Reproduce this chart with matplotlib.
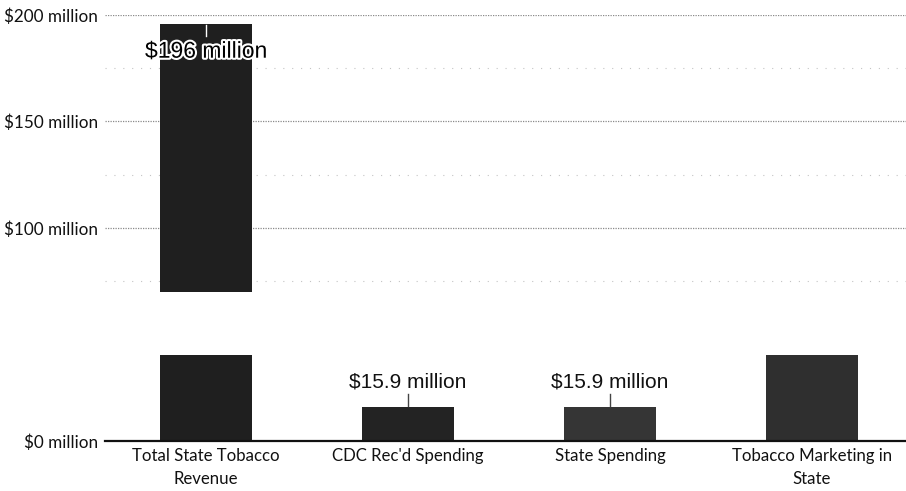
import numpy as np
import matplotlib
matplotlib.use("Agg")
import matplotlib.pyplot as plt
import matplotlib.patheffects as pe
from matplotlib.patches import Rectangle

# spending figures, in millions of dollars
categories = ["Total State Tobacco\nRevenue", "CDC Rec'd Spending",
              "State Spending", "Tobacco Marketing in\nState"]
values = [196, 15.9, 15.9, 45]
value_labels = ["$196 million", "$15.9 million", "$15.9 million", None]
bar_colors = ["#1f1f1f", "#232323", "#353535", "#2f2f2f"]
major_ticks = [0, 50, 100, 150, 200]
minor_ticks = [75, 125, 175]

W, H = 906, 491
fig = plt.figure(figsize=(W / 100, H / 100), dpi=100)
ax = fig.add_axes([105 / W, (H - 441) / H, 808 / W, 426 / H])

x = np.arange(len(categories))
ax.bar(x, values, width=0.46, color=bar_colors, zorder=3)

ax.set_xlim(-0.5, 3.5)
ax.set_ylim(0, 200)
ax.set_yticks(major_ticks)
ax.set_yticklabels([f"${v} million" for v in major_ticks],
                   fontsize=12.3, family="Lato", color="#111")
ax.set_yticks(minor_ticks, minor=True)
ax.set_xticks(x)
ax.set_xticklabels(categories, fontsize=12.1, family="Lato", color="#111",
                   linespacing=1.55)
ax.tick_params(axis="y", which="both", length=0, pad=5)
ax.tick_params(axis="x", length=0, pad=5)

# major grid dotted, minor grid barely there
ax.grid(axis="y", which="major", color="#8a8a8a", lw=0.9,
        linestyle=(0, (1, 1)), zorder=1)
ax.grid(axis="y", which="minor", color="#c4c4c4", lw=0.8,
        linestyle=(0, (1, 7)), zorder=1)
for s in ["top", "right", "left"]:
    ax.spines[s].set_visible(False)
ax.spines["bottom"].set_color("#111")
ax.spines["bottom"].set_linewidth(1.6)
ax.spines["bottom"].set_zorder(4)

# value labels with a short leader line
halo = [pe.withStroke(linewidth=3, foreground="white")]
for xi, v, lab in zip(x, values, value_labels):
    if lab is None:
        continue
    if v > 180:
        ax.plot([xi, xi], [v - 0.5, v - 6], color="white", lw=1, zorder=4)
        ax.text(xi, v - 13, lab, ha="center", va="center", fontsize=16.5,
                family="Liberation Sans", color="black", path_effects=halo,
                zorder=5)
    else:
        ax.plot([xi, xi], [v + 0.5, v + 6], color="#444", lw=1, zorder=4)
        ax.text(xi, v + 12, lab, ha="center", va="center", fontsize=15,
                family="Liberation Sans", color="#111", zorder=5)

# blank strip running across the page
fig.patches.append(Rectangle((0, (H - 355) / H), 1, 63 / H,
                             transform=fig.transFigure, facecolor="white",
                             edgecolor="none", zorder=10))

fig.savefig("out.png", dpi=100)
